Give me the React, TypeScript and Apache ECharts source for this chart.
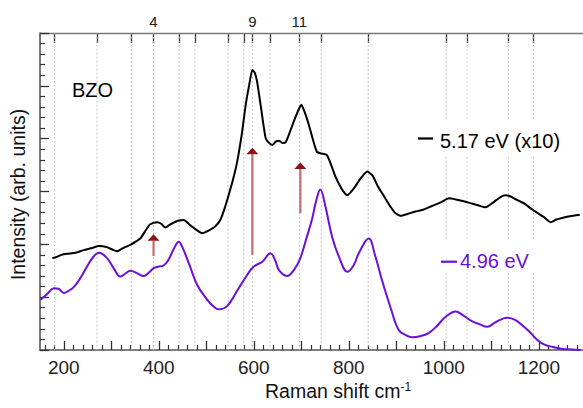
import React, { useEffect, useRef } from "react";
import * as echarts from "echarts";

// Raman spectra: [shift (cm-1), intensity (arb. units)]
const spectrum517: [number, number][] = [
  [176, 1.74], [182, 1.75], [195, 1.80], [207, 1.82], [225, 1.84], [242, 1.89],
  [260, 1.93], [274, 1.97], [290, 1.95], [305, 1.89], [312, 1.87], [325, 1.93],
  [340, 1.99], [361, 2.11], [375, 2.30], [382, 2.38], [397, 2.42], [405, 2.39],
  [414, 2.32], [425, 2.38], [442, 2.45], [453, 2.46], [465, 2.37], [480, 2.27],
  [491, 2.21], [505, 2.26], [519, 2.34], [530, 2.47], [540, 2.72], [547, 2.93],
  [557, 3.25], [565, 3.56], [575, 4.10], [583, 4.64], [590, 5.00], [597, 5.30],
  [602, 5.25], [607, 5.08], [615, 4.60], [625, 4.01], [632, 3.92], [639, 3.88],
  [647, 3.95], [653, 3.96], [660, 3.92], [667, 3.93], [677, 4.15], [684, 4.32],
  [692, 4.50], [700, 4.64], [708, 4.48], [716, 4.26], [724, 4.00], [733, 3.75],
  [742, 3.72], [754, 3.69], [765, 3.45], [772, 3.28], [785, 3.05], [797, 2.93],
  [810, 3.05], [825, 3.25], [839, 3.38], [850, 3.30], [860, 3.12], [870, 2.97],
  [885, 2.75], [897, 2.60], [909, 2.54], [925, 2.58], [940, 2.62], [958, 2.66],
  [976, 2.73], [995, 2.80], [1011, 2.87], [1025, 2.85], [1040, 2.82], [1056, 2.78],
  [1072, 2.74], [1088, 2.70], [1105, 2.80], [1120, 2.90], [1130, 2.93], [1142, 2.90],
  [1154, 2.84], [1170, 2.77], [1180, 2.70], [1193, 2.62], [1210, 2.52], [1225, 2.42],
  [1237, 2.47], [1249, 2.50], [1265, 2.53], [1286, 2.56],
];

const spectrum496: [number, number][] = [
  [151, 0.95], [165, 1.06], [179, 1.17], [189, 1.16], [200, 1.08], [210, 1.12],
  [221, 1.19], [235, 1.36], [249, 1.58], [262, 1.76], [274, 1.84], [291, 1.74],
  [305, 1.55], [319, 1.39], [330, 1.45], [340, 1.50], [355, 1.45], [368, 1.40],
  [380, 1.47], [389, 1.55], [400, 1.58], [410, 1.60], [420, 1.70], [432, 1.92],
  [442, 2.05], [449, 1.96], [465, 1.60], [481, 1.23], [502, 0.95], [515, 0.83],
  [526, 0.77], [544, 0.83], [565, 1.12], [586, 1.42], [600, 1.58], [618, 1.67],
  [635, 1.83], [645, 1.70], [653, 1.51], [670, 1.40], [685, 1.52], [698, 1.74],
  [712, 2.15], [723, 2.49], [732, 2.85], [740, 3.04], [750, 2.75], [765, 2.14],
  [780, 1.75], [797, 1.48], [810, 1.60], [821, 1.83], [842, 2.11], [855, 1.80],
  [870, 1.32], [888, 0.80], [905, 0.38], [920, 0.28], [933, 0.24], [950, 0.26],
  [968, 0.32], [985, 0.45], [1004, 0.63], [1025, 0.73], [1040, 0.66], [1060, 0.54],
  [1075, 0.49], [1091, 0.44], [1110, 0.53], [1133, 0.61], [1150, 0.57], [1165, 0.47],
  [1180, 0.35], [1197, 0.19], [1212, 0.10], [1228, 0.06], [1250, 0.02], [1270, 0.01],
  [1288, 0.0],
];

// calculated mode positions on the top axis, with the labelled mode numbers
const modeShifts = [181, 270, 342, 389, 443, 476, 546, 579, 597, 634, 696, 742, 841, 1005, 1049, 1136, 1189];
const modeLabelShifts = [389, 597, 696];
const modeLabelTexts = ["4", "9", "11"];

// bottom axis ticks and labels
const bottomLabels = [200, 400, 600, 800, 1000, 1200];
const bottomMajorTicks = [200, 300, 400, 500, 600, 700, 800, 900, 1000, 1100, 1200];
const bottomMinorTicks: number[] = [];
for (let v = 160; v <= 1280; v += 20) if (v % 100 !== 0) bottomMinorTicks.push(v);

// arrows: [shift, from intensity, to intensity]
const arrows: [number, number, number][] = [
  [389, 1.78, 2.19],
  [597, 1.80, 3.83],
  [698, 2.59, 3.55],
];

const X_MIN = 150;
const X_MAX = 1293;
const FONT = "'Liberation Sans', Arial, Helvetica, sans-serif";
const PURPLE = "#6c0fd8";

export default function App() {
  const ref = useRef<HTMLDivElement>(null);
  useEffect(() => {
    if (!ref.current) return;
    const chart = echarts.init(ref.current, null, { renderer: "svg" });
    const axisColor = "#555";
    const tickColor = "#333";
    chart.setOption({
      animation: false,
      backgroundColor: "#fff",
      grid: { left: 40, right: 0, top: 33, bottom: 58 },
      xAxis: [
        {
          type: "value",
          position: "bottom",
          min: X_MIN,
          max: X_MAX,
          axisLine: { show: true, lineStyle: { color: axisColor, width: 1.6 } },
          axisTick: {
            show: true,
            inside: true,
            length: 9,
            customValues: bottomMajorTicks,
            lineStyle: { color: tickColor, width: 1.3 },
          },
          axisLabel: {
            show: true,
            customValues: bottomLabels,
            formatter: (v: number) => String(Math.round(v)),
            fontSize: 19,
            lineHeight: 19,
            fontFamily: FONT,
            color: "#222",
            margin: 8,
          },
          splitLine: { show: false },
        },
        {
          type: "value",
          position: "bottom",
          min: X_MIN,
          max: X_MAX,
          axisLine: { show: false },
          axisTick: {
            show: true,
            inside: true,
            length: 5,
            customValues: bottomMinorTicks,
            lineStyle: { color: tickColor, width: 1.2 },
          },
          axisLabel: { show: false },
          splitLine: { show: false },
        },
        {
          type: "value",
          position: "top",
          min: X_MIN,
          max: X_MAX,
          axisLine: { show: true, lineStyle: { color: "#777", width: 1.4 } },
          axisTick: {
            show: true,
            inside: true,
            length: 10,
            customValues: modeShifts,
            lineStyle: { color: tickColor, width: 1.3 },
          },
          axisLabel: {
            show: true,
            customValues: modeLabelShifts,
            formatter: (v: number) => {
              const i = modeLabelShifts.indexOf(Math.round(v));
              return i >= 0 ? modeLabelTexts[i] : "";
            },
            fontSize: 15,
            fontFamily: FONT,
            color: "#222",
            margin: 4,
          },
          splitLine: { show: false },
        },
      ],
      yAxis: {
        type: "value",
        min: 0,
        max: 6,
        interval: 1,
        axisLine: { show: true, lineStyle: { color: axisColor, width: 1.6 } },
        axisTick: { show: true, inside: true, length: 9, lineStyle: { color: tickColor, width: 1.3 } },
        minorTick: { show: true, splitNumber: 5, length: 5, lineStyle: { color: tickColor, width: 1.2 } },
        axisLabel: { show: false },
        splitLine: { show: false },
      },
      series: [
        {
          type: "custom",
          name: "modes",
          z: 1,
          silent: true,
          clip: false,
          data: modeShifts.map((w) => [w, 0]),
          renderItem: (_p: any, api: any) => {
            const w = api.value(0);
            const top = api.coord([w, 6]);
            const bot = api.coord([w, 0]);
            return {
              type: "line",
              shape: { x1: top[0], y1: top[1], x2: bot[0], y2: bot[1] },
              style: { stroke: "#b8b8b8", lineWidth: 1, lineDash: [1.5, 2.5] },
            };
          },
        },
        {
          type: "line",
          name: "5.17 eV (x10)",
          z: 5,
          data: spectrum517,
          showSymbol: false,
          smooth: 0.2,
          lineStyle: { color: "#000", width: 2 },
        },
        {
          type: "line",
          name: "4.96 eV",
          z: 5,
          data: spectrum496,
          showSymbol: false,
          smooth: 0.4,
          lineStyle: { color: PURPLE, width: 2 },
        },
        {
          type: "custom",
          name: "arrows",
          z: 6,
          silent: true,
          clip: false,
          data: arrows,
          renderItem: (_p: any, api: any) => {
            const w = api.value(0);
            const p0 = api.coord([w, api.value(1)]);
            const p1 = api.coord([w, api.value(2)]);
            const hh = 6.5;
            const hw = 6;
            return {
              type: "group",
              children: [
                {
                  type: "line",
                  shape: { x1: p0[0], y1: p0[1], x2: p1[0], y2: p1[1] + hh },
                  style: { stroke: "#c46c6c", lineWidth: 2.2 },
                },
                {
                  type: "polygon",
                  shape: {
                    points: [
                      [p1[0], p1[1]],
                      [p1[0] - hw, p1[1] + hh],
                      [p1[0] + hw, p1[1] + hh],
                    ],
                  },
                  style: { fill: "#8e1414" },
                },
              ],
            };
          },
        },
      ],
      graphic: [
        { type: "rect", z: 3, shape: { x: 415, y: 120, width: 168, height: 35 }, style: { fill: "#fff" } },
        { type: "rect", z: 3, shape: { x: 437, y: 241, width: 98, height: 31 }, style: { fill: "#fff" } },
        {
          type: "line",
          z: 4,
          shape: { x1: 418, y1: 138.5, x2: 433, y2: 138.5 },
          style: { stroke: "#000", lineWidth: 2.2 },
        },
        {
          type: "text",
          z: 4,
          x: 440,
          y: 141,
          style: { text: "5.17 eV (x10)", fill: "#000", fontSize: 20, fontFamily: FONT, align: "left", verticalAlign: "middle" },
        },
        {
          type: "line",
          z: 4,
          shape: { x1: 441, y1: 261.7, x2: 457, y2: 261.7 },
          style: { stroke: PURPLE, lineWidth: 2.2 },
        },
        {
          type: "text",
          z: 4,
          x: 460,
          y: 261,
          style: { text: "4.96 eV", fill: PURPLE, fontSize: 20, fontFamily: FONT, align: "left", verticalAlign: "middle" },
        },
        {
          type: "text",
          z: 4,
          x: 72,
          y: 90,
          style: { text: "BZO", fill: "#000", fontSize: 20, fontFamily: FONT, align: "left", verticalAlign: "middle" },
        },
        {
          type: "text",
          z: 4,
          x: 18,
          y: 194.5,
          rotation: Math.PI / 2,
          style: {
            text: "Intensity (arb. units)",
            fill: "#111",
            fontSize: 19.5,
            fontFamily: FONT,
            align: "center",
            verticalAlign: "middle",
          },
        },
        {
          type: "text",
          z: 4,
          x: 265,
          y: 391,
          style: {
            text: "Raman shift cm{sup|-1}",
            fill: "#111",
            fontSize: 19.5,
            fontFamily: FONT,
            align: "left",
            verticalAlign: "middle",
            rich: {
              sup: { fontSize: 12, fontFamily: FONT, fill: "#111", verticalAlign: "top", padding: [0, 0, 8, 0] },
            },
          },
        },
      ],
    });
    return () => chart.dispose();
  }, []);
  return (
    <div
      ref={ref}
      style={{ position: "fixed", left: 0, top: 0, width: 583, height: 408 }}
    />
  );
}
